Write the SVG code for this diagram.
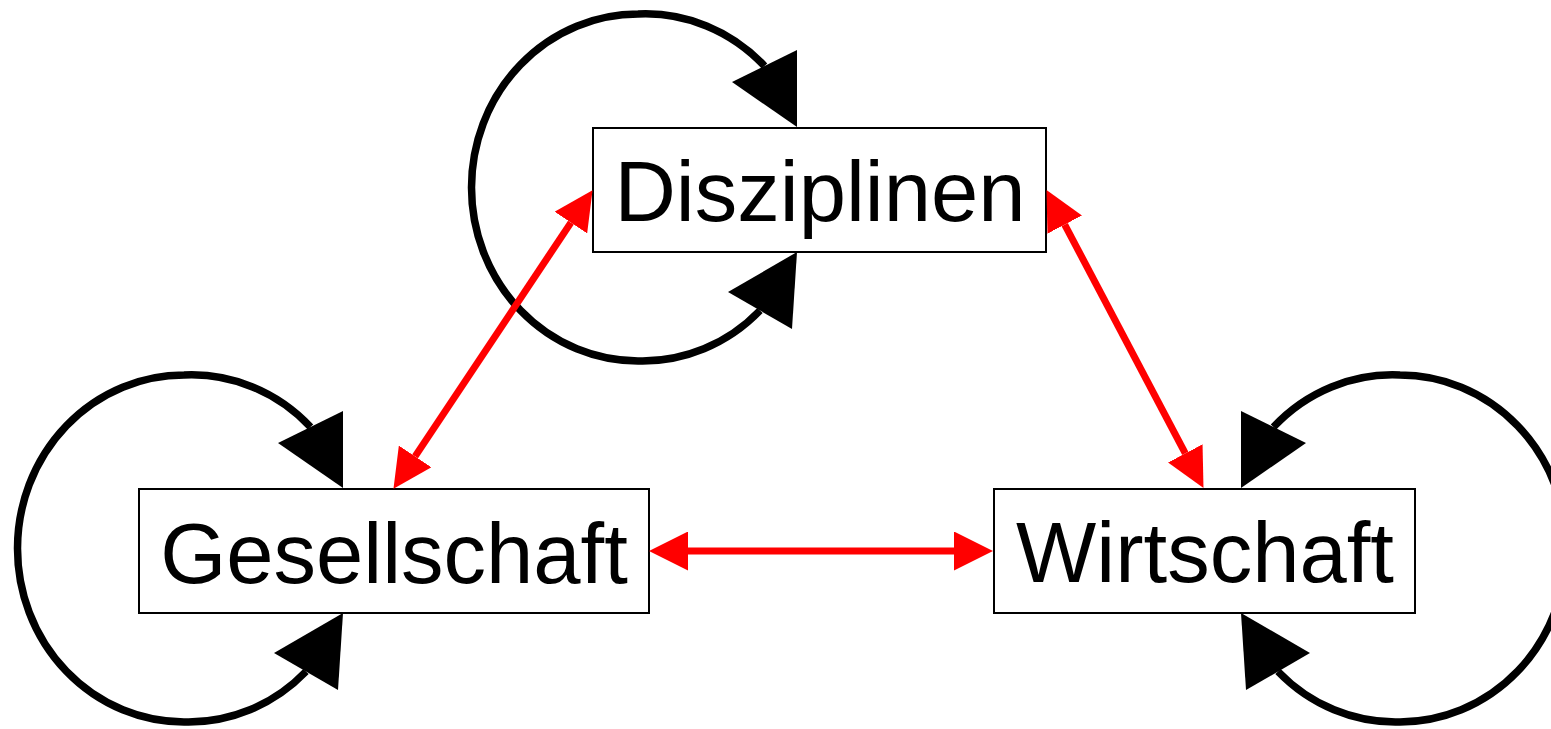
<svg xmlns="http://www.w3.org/2000/svg" xmlns:xlink="http://www.w3.org/1999/xlink" width="1551" height="729" viewBox="0 0 1551 729">
<style>
.box{fill:#fff;stroke:#000;stroke-width:2}
.lbl{font-family:"Liberation Sans",Arial,sans-serif;font-size:85px;fill:#000;text-anchor:middle}
.loop{fill:none;stroke:#000;stroke-width:7.5}
.head{fill:#000;stroke:none}
.red{fill:none;stroke:#f00;stroke-width:7}
</style>
<defs>
<marker id="rh" viewBox="0 -19.5 39 39" refX="0" refY="0" markerWidth="39" markerHeight="39" markerUnits="userSpaceOnUse" orient="auto-start-reverse">
<path d="M0,-19.5 L39,0 L0,19.5 Z" fill="#f00"/>
</marker>
<g id="loop">
<path class="loop" d="M764.5,66 A166.5,173.5 0 0 0 638,14 A166.5,173.5 0 0 0 471.5,187.5 A166.5,173.5 0 0 0 638,361 A166.5,173.5 0 0 0 760,310.5"/>
<polygon class="head" points="797,50 732,82 797,127"/>
<polygon class="head" points="728,292 792,329 797,252"/>
</g>
</defs>
<rect width="1551" height="729" fill="#fff"/>
<g id="node-disziplinen">
<rect class="box" x="593" y="128" width="453" height="124"/>
<text class="lbl" x="820" y="221">Disziplinen</text>
</g>
<g id="node-gesellschaft">
<rect class="box" x="139" y="489" width="510" height="124"/>
<text class="lbl" x="394" y="583">Gesellschaft</text>
</g>
<g id="node-wirtschaft">
<rect class="box" x="994" y="489" width="421" height="124"/>
<text class="lbl" x="1205" y="582">Wirtschaft</text>
</g>
<g id="connectors">
<use xlink:href="#loop"/>
<use xlink:href="#loop" transform="translate(-454,361)"/>
<use xlink:href="#loop" transform="translate(2038,361) scale(-1,1)"/>
<line class="red" x1="570.9" y1="222.6" x2="415.1" y2="456.4" marker-start="url(#rh)" marker-end="url(#rh)"/>
<line class="red" x1="1064.7" y1="224.6" x2="1185.3" y2="453.4" marker-start="url(#rh)" marker-end="url(#rh)"/>
<line class="red" x1="688" y1="551" x2="954" y2="551" marker-start="url(#rh)" marker-end="url(#rh)"/>
</g>
</svg>
